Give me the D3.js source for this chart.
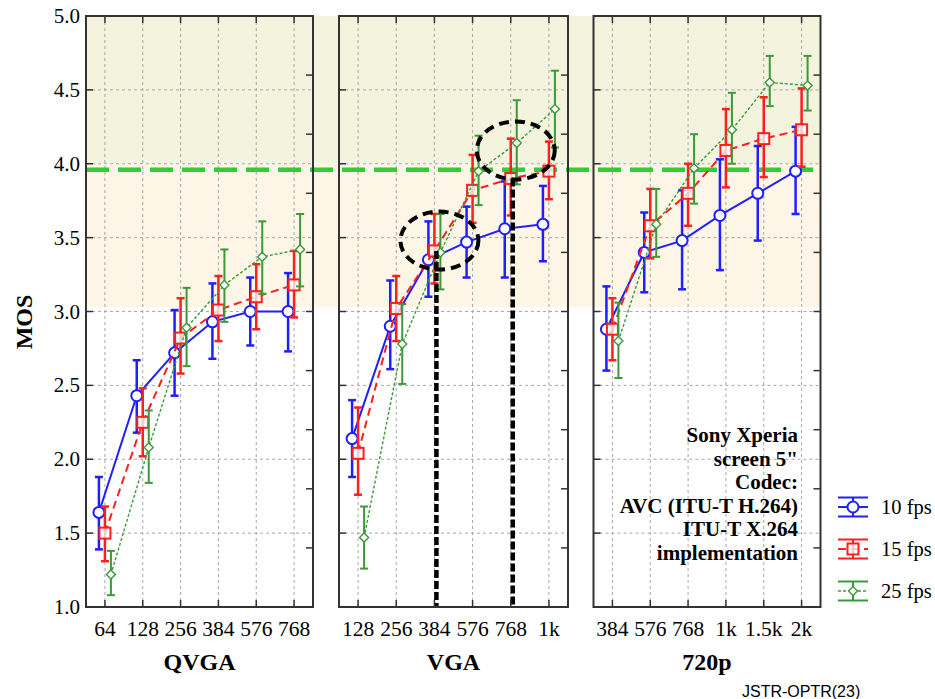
<!DOCTYPE html>
<html>
<head>
<meta charset="utf-8">
<script src="https://cdn.jsdelivr.net/npm/d3@7"></script>
<style>
  body { margin: 0; background: #fff; }
  svg { display: block; }
</style>
</head>
<body>
<svg id="chart" width="935" height="699"></svg>
<script>
// Bit rates (kbps) tested per resolution
const qvgaRates = ["64", "128", "256", "384", "576", "768"];
const vgaRates = ["128", "256", "384", "576", "768", "1k"];
const hdRates = ["384", "576", "768", "1k", "1.5k", "2k"];
const groupNames = ["QVGA", "VGA", "720p"];
const fpsLabels = ["10 fps", "15 fps", "25 fps"];

// MOS means and confidence interval bounds
const qvga10 = [1.64, 2.43, 2.72, 2.93, 3.00, 3.00];
const qvga10Lo = [1.39, 2.18, 2.43, 2.68, 2.77, 2.73];
const qvga10Hi = [1.88, 2.67, 3.01, 3.19, 3.23, 3.26];
const qvga15 = [1.50, 2.25, 2.82, 3.01, 3.10, 3.18];
const qvga15Lo = [1.31, 2.02, 2.58, 2.80, 2.88, 2.96];
const qvga15Hi = [1.68, 2.48, 3.09, 3.24, 3.32, 3.41];
const qvga25 = [1.22, 2.08, 2.89, 3.18, 3.37, 3.42];
const qvga25Lo = [1.08, 1.84, 2.63, 2.93, 3.12, 3.17];
const qvga25Hi = [1.38, 2.33, 3.16, 3.42, 3.61, 3.66];

const vga10 = [2.14, 2.90, 3.35, 3.47, 3.56, 3.59];
const vga10Lo = [1.88, 2.61, 3.10, 3.23, 3.23, 3.34];
const vga10Hi = [2.40, 3.21, 3.61, 3.71, 3.88, 3.85];
const vga15 = [2.04, 3.02, 3.41, 3.82, 3.90, 3.95];
const vga15Lo = [1.76, 2.80, 3.19, 3.60, 3.65, 3.76];
const vga15Hi = [2.35, 3.24, 3.66, 4.06, 4.17, 4.15];
const vga25 = [1.47, 2.78, 3.40, 3.95, 4.14, 4.37];
const vga25Lo = [1.26, 2.51, 3.15, 3.72, 3.86, 4.11];
const vga25Hi = [1.68, 3.05, 3.66, 4.19, 4.43, 4.63];

const hd10 = [2.88, 3.40, 3.48, 3.65, 3.80, 3.95];
const hd10Lo = [2.60, 3.13, 3.15, 3.28, 3.48, 3.66];
const hd10Hi = [3.17, 3.67, 3.82, 4.03, 4.12, 4.25];
const hd15 = [2.88, 3.58, 3.80, 4.09, 4.17, 4.23];
const hd15Lo = [2.67, 3.36, 3.58, 3.84, 3.91, 3.98];
const hd15Hi = [3.09, 3.83, 4.00, 4.37, 4.45, 4.51];
const hd25 = [2.80, 3.59, 3.97, 4.23, 4.55, 4.53];
const hd25Lo = [2.55, 3.37, 3.73, 4.00, 4.39, 4.36];
const hd25Hi = [3.06, 3.83, 4.20, 4.48, 4.73, 4.73];

const yTicks = [1.0, 1.5, 2.0, 2.5, 3.0, 3.5, 4.0, 4.5, 5.0];
const threshold = 3.96;           // green dashed acceptance line
const bandTop = [4.0, 5.0];       // upper shaded band
const bandMid = [3.03, 4.0];      // middle shaded band
const noteLines = ["Sony Xperia", "screen 5\"", "Codec:", "AVC (ITU-T H.264)", "ITU-T X.264", "implementation"];

// ---------------------------------------------------------------
const svg = d3.select("#chart");
const serif = "'Liberation Serif', 'Times New Roman', serif";

const y = d3.scaleLinear().domain([1, 5]).range([607, 16]);

const styles = [
    { color: "#1f1fff", dash: null, width: 2, marker: "circle", dx: -6 },
    { color: "#ff1f1f", dash: "8,5", width: 2, marker: "square", dx: 0 },
    { color: "#3a9a3a", dash: "3,2", width: 1.4, marker: "diamond", dx: 6 }
];

const panels = [
    { name: groupNames[0], rates: qvgaRates, x0: 86, x1: 313,
      series: [[qvga10, qvga10Lo, qvga10Hi], [qvga15, qvga15Lo, qvga15Hi], [qvga25, qvga25Lo, qvga25Hi]] },
    { name: groupNames[1], rates: vgaRates, x0: 339, x1: 568,
      series: [[vga10, vga10Lo, vga10Hi], [vga15, vga15Lo, vga15Hi], [vga25, vga25Lo, vga25Hi]] },
    { name: groupNames[2], rates: hdRates, x0: 593.5, x1: 820.5,
      series: [[hd10, hd10Lo, hd10Hi], [hd15, hd15Lo, hd15Hi], [hd25, hd25Lo, hd25Hi]] }
];
panels.forEach(p => {
    p.x = d3.scalePoint().domain(p.rates).range([p.x0, p.x1]).padding(0.5);
});

const left = panels[0].x0, right = panels[2].x1;

// background bands (spanning the gaps between panels too)
svg.append("rect")
    .attr("x", left).attr("width", right - left)
    .attr("y", y(bandTop[1])).attr("height", y(bandTop[0]) - y(bandTop[1]))
    .attr("fill", "#f3f3de");
svg.append("rect")
    .attr("x", left).attr("width", right - left)
    .attr("y", y(bandMid[1])).attr("height", y(bandMid[0]) - y(bandMid[1]))
    .attr("fill", "#fdf5e5");

// grid lines
panels.forEach(p => {
    const g = svg.append("g").attr("stroke", "#a8a8a8").attr("stroke-width", 1)
        .attr("stroke-dasharray", "3,3");
    p.rates.forEach(r => {
        g.append("line").attr("x1", p.x(r)).attr("x2", p.x(r))
            .attr("y1", y(5)).attr("y2", y(1));
    });
    yTicks.slice(1, -1).forEach(v => {
        g.append("line").attr("x1", p.x0).attr("x2", p.x1)
            .attr("y1", y(v)).attr("y2", y(v));
    });
});

// acceptance threshold
svg.append("line")
    .attr("x1", left).attr("x2", right)
    .attr("y1", y(threshold)).attr("y2", y(threshold))
    .attr("stroke", "#33cc33").attr("stroke-width", 4.5)
    .attr("stroke-dasharray", "23,9");

function drawMarker(g, type, cx, cy, color) {
    if (type === "circle") {
        g.append("circle").attr("cx", cx).attr("cy", cy).attr("r", 5.5)
            .attr("fill", "#fff").attr("stroke", color).attr("stroke-width", 2);
    } else if (type === "square") {
        g.append("rect").attr("x", cx - 5.5).attr("y", cy - 5.5)
            .attr("width", 11).attr("height", 11)
            .attr("fill", "#fff").attr("fill-opacity", 0.75)
            .attr("stroke", color).attr("stroke-width", 2);
    } else {
        const s = 4.5;
        g.append("path")
            .attr("d", `M${cx},${cy - s}L${cx + s},${cy}L${cx},${cy + s}L${cx - s},${cy}Z`)
            .attr("fill", "#fff").attr("stroke", color).attr("stroke-width", 1.4);
    }
}

// series: lines, error bars, markers
panels.forEach(p => {
    p.series.forEach((s, i) => {
        const st = styles[i];
        const [mean, lo, hi] = s;
        const g = svg.append("g");
        const line = d3.line()
            .x((d, k) => p.x(p.rates[k]) + st.dx)
            .y(d => y(d));
        g.append("path").datum(mean)
            .attr("d", line)
            .attr("fill", "none")
            .attr("stroke", st.color)
            .attr("stroke-width", st.width)
            .attr("stroke-dasharray", st.dash);
        const eb = g.append("g").attr("stroke", st.color).attr("stroke-width", i === 2 ? 2 : 2.5);
        mean.forEach((m, k) => {
            const cx = p.x(p.rates[k]) + st.dx;
            eb.append("line").attr("x1", cx).attr("x2", cx).attr("y1", y(lo[k])).attr("y2", y(hi[k]));
            eb.append("line").attr("x1", cx - 4).attr("x2", cx + 4).attr("y1", y(lo[k])).attr("y2", y(lo[k]));
            eb.append("line").attr("x1", cx - 4).attr("x2", cx + 4).attr("y1", y(hi[k])).attr("y2", y(hi[k]));
        });
        mean.forEach((m, k) => {
            drawMarker(g, st.marker, p.x(p.rates[k]) + st.dx, y(m), st.color);
        });
    });
});

// annotations on VGA panel: vertical drop lines and ellipses
const vga = panels[1];
[["384", vga15[2]], ["768", vga15[4]]].forEach(([r, v]) => {
    svg.append("line")
        .attr("x1", vga.x(r) + 2).attr("x2", vga.x(r) + 2)
        .attr("y1", y(v)).attr("y2", y(1))
        .attr("stroke", "#000").attr("stroke-width", 4.5)
        .attr("stroke-dasharray", "8,3");
});
[["384", 3.48], ["768", 4.09]].forEach(([r, v]) => {
    svg.append("ellipse")
        .attr("cx", vga.x(r) + 5).attr("cy", y(v))
        .attr("rx", 39).attr("ry", 29)
        .attr("fill", "none").attr("stroke", "#000").attr("stroke-width", 4)
        .attr("stroke-dasharray", "10,6");
});

// frames and ticks
panels.forEach((p, pi) => {
    const g = svg.append("g").attr("stroke", "#333").attr("stroke-width", 1.5);
    p.rates.forEach(r => {
        g.append("line").attr("x1", p.x(r)).attr("x2", p.x(r)).attr("y1", y(5)).attr("y2", y(5) + 7);
        g.append("line").attr("x1", p.x(r)).attr("x2", p.x(r)).attr("y1", y(1)).attr("y2", y(1) - 7);
    });
    yTicks.forEach(v => {
        g.append("line").attr("x1", p.x0).attr("x2", p.x0 + 7).attr("y1", y(v)).attr("y2", y(v));
    });
    d3.range(1, 10).forEach(k => {
        const yy = y(5) + (y(1) - y(5)) * k / 10;
        g.append("line").attr("x1", p.x1).attr("x2", p.x1 - 7).attr("y1", yy).attr("y2", yy);
    });
    svg.append("rect")
        .attr("x", p.x0).attr("y", y(5))
        .attr("width", p.x1 - p.x0).attr("height", y(1) - y(5))
        .attr("fill", "none").attr("stroke", "#333").attr("stroke-width", 2);

    // x tick labels
    svg.append("g").selectAll("text").data(p.rates).join("text")
        .attr("x", d => p.x(d)).attr("y", 636)
        .attr("text-anchor", "middle")
        .style("font-family", serif).style("font-size", "21.5px")
        .text(d => d);
    svg.append("text")
        .attr("x", (p.x0 + p.x1) / 2).attr("y", 670)
        .attr("text-anchor", "middle")
        .style("font-family", serif).style("font-size", "24px").style("font-weight", "bold")
        .text(p.name);
});

// y tick labels
svg.append("g").selectAll("text").data(yTicks).join("text")
    .attr("x", 80).attr("y", d => y(d) + 7)
    .attr("text-anchor", "end")
    .style("font-family", serif).style("font-size", "21px")
    .text(d => d.toFixed(1));

svg.append("text")
    .attr("transform", "translate(32,322) rotate(-90)")
    .attr("text-anchor", "middle")
    .style("font-family", serif).style("font-size", "24px").style("font-weight", "bold")
    .text("MOS");

// device/codec note
svg.append("g").selectAll("text").data(noteLines).join("text")
    .attr("x", 798).attr("y", (d, i) => 442 + i * 23.6)
    .attr("text-anchor", "end")
    .style("font-family", serif).style("font-size", "21px").style("font-weight", "bold")
    .text(d => d);

// legend
fpsLabels.forEach((lab, i) => {
    const st = styles[i];
    const cy = 507 + i * 42, cx = 853;
    const g = svg.append("g");
    g.append("line").attr("x1", cx - 15).attr("x2", cx + 15).attr("y1", cy).attr("y2", cy)
        .attr("stroke", st.color).attr("stroke-width", st.width).attr("stroke-dasharray", st.dash);
    const eb = g.append("g").attr("stroke", st.color).attr("stroke-width", 2);
    eb.append("line").attr("x1", cx).attr("x2", cx).attr("y1", cy - 9.5).attr("y2", cy + 9.5);
    eb.append("line").attr("x1", cx - 15).attr("x2", cx + 15).attr("y1", cy - 9.5).attr("y2", cy - 9.5);
    eb.append("line").attr("x1", cx - 15).attr("x2", cx + 15).attr("y1", cy + 9.5).attr("y2", cy + 9.5);
    drawMarker(g, st.marker, cx, cy, st.color);
    g.append("text").attr("x", 881).attr("y", cy + 7)
        .style("font-family", serif).style("font-size", "20.5px")
        .text(lab);
});

svg.append("text")
    .attr("x", 742).attr("y", 697)
    .style("font-family", "'Liberation Sans', Arial, sans-serif").style("font-size", "16px")
    .text("JSTR-OPTR(23)");
</script>
</body>
</html>
